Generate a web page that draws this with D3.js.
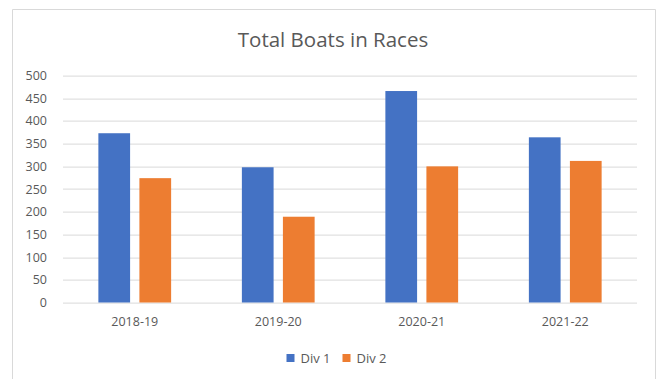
<!DOCTYPE html>
<html>
<head>
<meta charset="utf-8">
<script src="https://cdn.jsdelivr.net/npm/d3@7"></script>
<style>
  body { margin: 0; background: #fff; }
  text { font-family: "Open Sans", "Noto Sans", sans-serif; fill: #595959; }
</style>
</head>
<body>
<svg id="chart" width="658" height="379"></svg>
<script>
const seasons = ["2018-19", "2019-20", "2020-21", "2021-22"];
const seriesNames = ["Div 1", "Div 2"];
const div1 = [373, 298, 466, 364];
const div2 = [274, 189, 300, 312];
const yTicks = [0, 50, 100, 150, 200, 250, 300, 350, 400, 450, 500];

const colors = { "Div 1": "#4472c4", "Div 2": "#ed7d31" };

const data = seasons.map((s, i) => ({ season: s, "Div 1": div1[i], "Div 2": div2[i] }));

const svg = d3.select("#chart"),
    margin = { top: 75.6, right: 21, bottom: 76.5, left: 63 },
    width = +svg.attr("width") - margin.left - margin.right,
    height = +svg.attr("height") - margin.top - margin.bottom;

// chart frame (no bottom edge visible)
svg.append("path")
    .attr("d", "M12.5,390 V9.5 H655.5 V390")
    .attr("fill", "none")
    .attr("stroke", "#d9d9d9")
    .attr("stroke-width", 1);

svg.append("text")
    .attr("x", 333)
    .attr("y", 47)
    .attr("text-anchor", "middle")
    .style("font-size", "20.5px")
    .text("Total Boats in Races");

const g = svg.append("g").attr("transform", `translate(${margin.left},${margin.top})`);

const x0 = d3.scaleBand().domain(seasons).range([0, width]).paddingInner(0.493).paddingOuter(0.2465);
const x1 = d3.scaleBand().domain(seriesNames).range([0, x0.bandwidth()]).paddingInner(0.227);
const y = d3.scaleLinear().domain([0, 500]).range([height, 0]);

// grid
g.append("g")
    .attr("class", "grid")
    .selectAll("line")
    .data(yTicks)
    .enter().append("line")
    .attr("x1", 0)
    .attr("x2", width)
    .attr("y1", d => Math.round(y(d)) + 0.5)
    .attr("y2", d => Math.round(y(d)) + 0.5)
    .attr("stroke", "#d9d9d9")
    .attr("stroke-width", 1);

// y labels
const yAxis = g.append("g")
    .call(d3.axisLeft(y).tickValues(yTicks).tickSize(0).tickPadding(16));
yAxis.select(".domain").remove();
yAxis.selectAll("text").style("font-size", "12.5px").attr("fill", "#595959");

// bars
const groups = g.selectAll(".season")
    .data(data)
    .enter().append("g")
    .attr("class", "season")
    .attr("transform", d => `translate(${x0(d.season)},0)`);

groups.selectAll("rect")
    .data(d => seriesNames.map(k => ({ key: k, value: d[k] })))
    .enter().append("rect")
    .attr("x", d => x1(d.key))
    .attr("width", x1.bandwidth())
    .attr("y", d => y(d.value))
    .attr("height", d => height - y(d.value))
    .attr("fill", d => colors[d.key]);

// x labels
const xAxis = g.append("g")
    .attr("transform", `translate(0,${height})`)
    .call(d3.axisBottom(x0).tickSize(0).tickPadding(15));
xAxis.select(".domain").remove();
xAxis.selectAll("text").style("font-size", "12.5px").attr("fill", "#595959");

// legend
const legendX = [286.5, 342.5];
const legend = svg.selectAll(".legend")
    .data(seriesNames)
    .enter().append("g")
    .attr("class", "legend")
    .attr("transform", (d, i) => `translate(${legendX[i]},354)`);

legend.append("rect")
    .attr("width", 8)
    .attr("height", 8)
    .attr("fill", d => colors[d]);

legend.append("text")
    .attr("x", 14)
    .attr("y", 4)
    .attr("dy", "0.35em")
    .style("font-size", "13px")
    .text(d => d);
</script>
</body>
</html>
